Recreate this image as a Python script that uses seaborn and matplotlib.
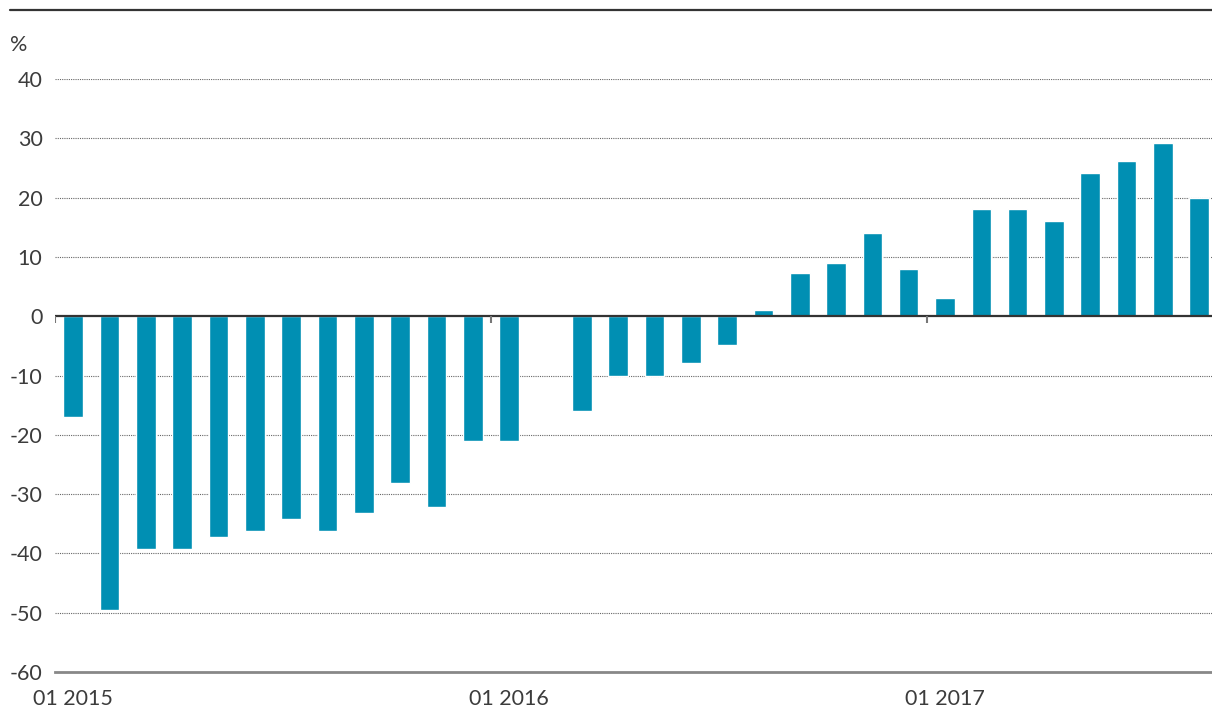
import matplotlib
matplotlib.use('Agg')
import matplotlib.pyplot as plt
from matplotlib.lines import Line2D
import seaborn as sns
import pandas as pd

sns.set_style("white")
plt.rcParams['font.family'] = ['Lato', 'DejaVu Sans']

BAR_COLOR = "#008fb3"
TEXT_COLOR = "#3c3c3c"

# monthly values, 01 2015 - 08 2017 (02 2016 has no bar)
months = [f"{m:02d} {y}" for y in (2015, 2016, 2017) for m in range(1, 13)][:32]
values = [-17, -49.5, -39.3, -39.3, -37.3, -36.3, -34.2, -36.3, -33.2, -28.2, -32.2, -21.1,
          -21.1, 0, -16, -10, -10, -7.9, -4.9, 1, 7.3, 8.9, 14, 7.9,
          3, 18, 18, 16, 24.1, 26.1, 29.2, 20]
tick_labels = ["01 2015", "01 2016", "01 2017"]
yticks = [-60, -50, -40, -30, -20, -10, 0, 10, 20, 30, 40]

df = pd.DataFrame({"month": months, "value": values})

fig = plt.figure(figsize=(12.12, 7.09), dpi=100)
ax = fig.add_axes([55 / 1212, 1 - 672 / 709, 1 - 55 / 1212, (672 - 79) / 709])

sns.barplot(data=df, x="month", y="value", color=BAR_COLOR, width=0.54,
            saturation=1, ax=ax)

ax.set_xlim(-0.5, len(months) - 0.65)
ax.set_ylim(-60, 40)
ax.set_yticks(yticks)
ax.set_yticklabels([str(v) for v in yticks])
for v in yticks:
    if v in (0, -60):
        continue
    ax.axhline(v, color="#666666", lw=0.8, ls=(0, (1, 1)), zorder=0)
ax.axhline(0, color="#333333", lw=1.6, zorder=3)

# january ticks on the zero line
jan_pos = [months.index(lbl) for lbl in tick_labels]
ax.vlines([p - 0.5 for p in jan_pos], -1.2, 0, color="#777777", lw=1.5, zorder=3)

ax.set_xticks(jan_pos)
ax.set_xticklabels(tick_labels)
ax.tick_params(axis="x", length=0, pad=12, labelsize=15.5, labelcolor=TEXT_COLOR)
ax.tick_params(axis="y", length=0, pad=9, labelsize=15.5, labelcolor=TEXT_COLOR)

ax.set_xlabel("")
ax.set_ylabel("")
for s in ("top", "right", "left"):
    ax.spines[s].set_visible(False)
ax.spines["bottom"].set_color("#888888")
ax.spines["bottom"].set_linewidth(2)

fig.add_artist(Line2D([10 / 1212, 1], [1 - 10 / 709] * 2, color="#333333", lw=1.6,
                      transform=fig.transFigure))
fig.text(10 / 1212, 1 - 45 / 709, "%", fontsize=15.5, color=TEXT_COLOR,
         va="center", ha="left")

fig.savefig("out.png", dpi=100)
